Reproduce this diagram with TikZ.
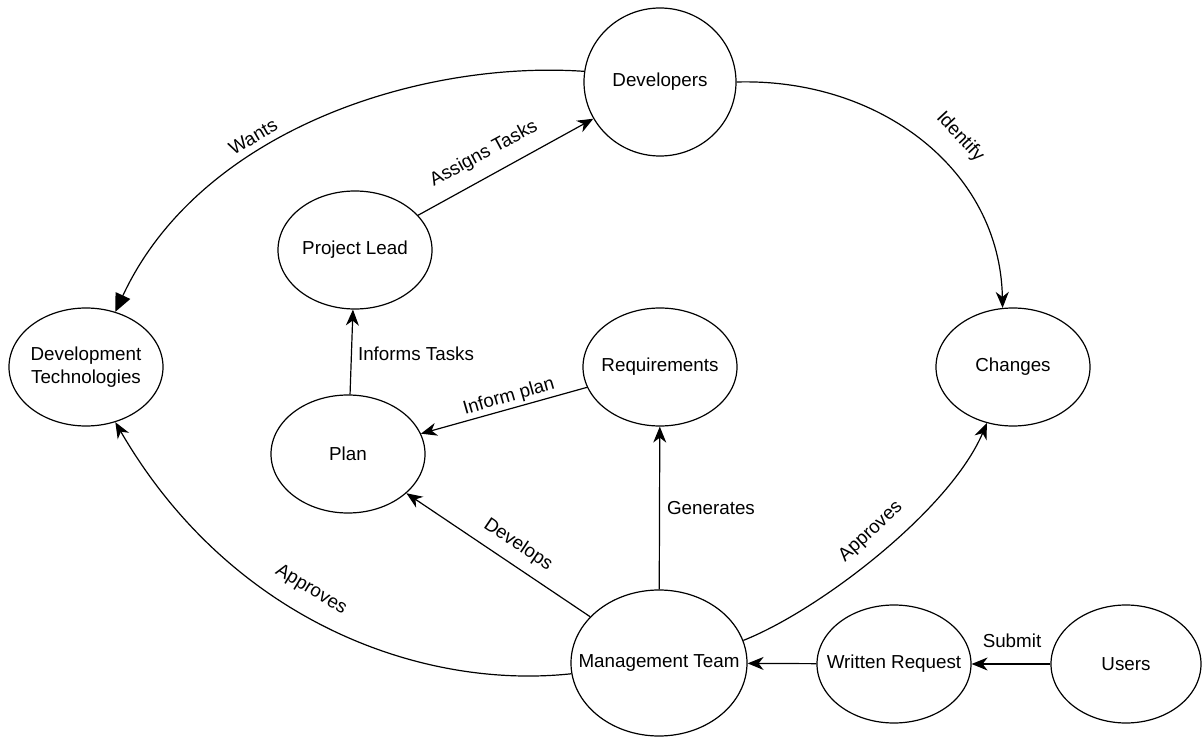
\documentclass[tikz,border=0pt]{standalone}
\usepackage{fontspec}
\setmainfont{Liberation Sans}
\usetikzlibrary{shapes.geometric,arrows.meta}
\begin{document}
\begin{tikzpicture}[x=1pt,y=-1pt,
  ent/.style={ellipse, draw, line width=1.2pt, minimum width=154pt, minimum height=118pt,
    inner xsep=-50pt, inner ysep=0pt, font=\fontsize{18.8}{23}\selectfont, align=center},
  conn/.style={line width=1.2pt, -{Stealth[length=16pt,width=13pt,inset=5pt]}},
  bigconn/.style={line width=1.2pt, -{Triangle[length=18pt,width=16pt]}},
  lbl/.style={font=\fontsize{18.8}{23}\selectfont, inner sep=0pt}]
\useasboundingbox (0,0) rectangle (1203,738);
% entities
\node[ent, minimum width=152pt, minimum height=148pt] (dev) at (660,82) {Developers};
\node[ent] (pl) at (355,250) {Project Lead};
\node[ent] (dt) at (86,367) {Development\\Technologies};
\node[ent] (req) at (660,367) {Requirements};
\node[ent] (chg) at (1013,367) {Changes};
\node[ent] (plan) at (348,454) {Plan};
\node[ent, minimum width=176pt, minimum height=146pt] (mgmt) at (659,663) {Management Team};
\node[ent] (wr) at (894,664) {Written Request};
\node[ent, minimum width=150pt] (usr) at (1126,664) {Users};
% connectors
\draw[conn] (usr) -- (wr);
\draw[conn] (wr) -- (mgmt);
\draw[conn] (mgmt) -- (req);
\draw[conn] (mgmt) -- (plan);
\draw[conn] (req) -- (plan);
\draw[conn] (plan) -- (pl);
\draw[conn] (pl) -- (dev);
\draw[conn] (dev.east) .. controls (880,78) and (1000,170) .. (chg.100);
\draw[conn] (mgmt.15) .. controls (820,610) and (950,510) .. (chg.245);
\draw[conn] (mgmt.187) .. controls (420,690) and (230,620) .. (dt.298);
\draw[bigconn] (dev.172) .. controls (420,60) and (200,130) .. (dt.62);
% labels
\node[lbl, rotate=30.5] (lwants) at (253,137) {Wants};
\node[lbl, rotate=28.5] (lassign) at (484,154) {Assigns Tasks};
\node[lbl] (linformt) at (416,354) {Informs Tasks};
\node[lbl, rotate=16] (linformp) at (509,397) {Inform plan};
\node[lbl, rotate=-34] (ldevelops) at (518,545) {Develops};
\node[lbl] (lgen) at (711,508) {Generates};
\node[lbl, rotate=43] (lappr) at (871,532) {Approves};
\node[lbl, rotate=-31] (lappl) at (311,590) {Approves};
\node[lbl] (lsubmit) at (1012,641) {Submit};
\node[lbl, rotate=-47] (lident) at (960,137) {Identify};
\end{tikzpicture}
\end{document}
